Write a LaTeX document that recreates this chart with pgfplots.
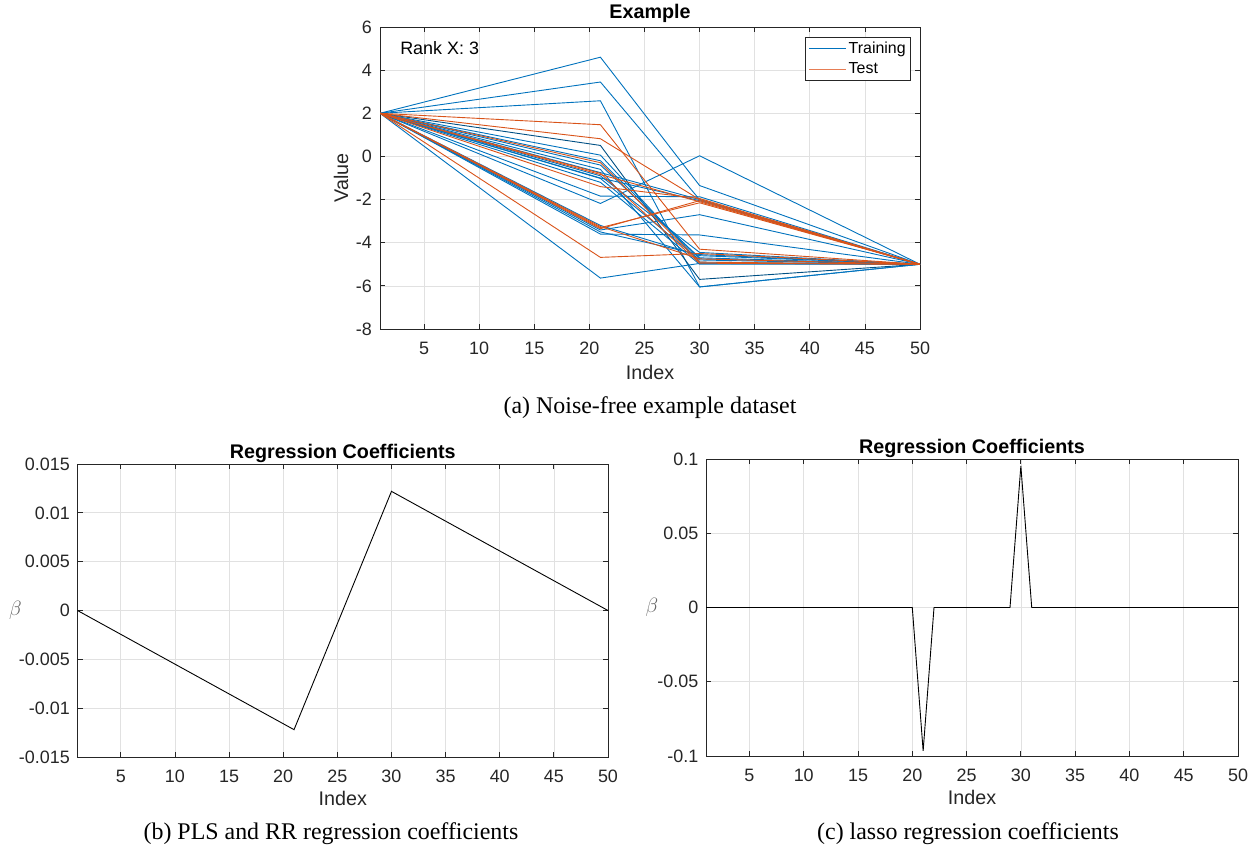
\documentclass[border=0pt]{standalone}
\usepackage{fontspec}
\setmainfont{Liberation Sans}
\newfontfamily\capfont{Liberation Serif}
\usepackage{pgfplots}
\pgfplotsset{compat=1.18}

\definecolor{mblue}{RGB}{0,114,189}
\definecolor{morange}{RGB}{217,83,25}
\definecolor{lorange}{RGB}{230,125,85}
\definecolor{axgray}{RGB}{38,38,38}
\definecolor{betagray}{RGB}{100,100,100}
\definecolor{gridgray}{RGB}{225,225,225}

\newcommand{\labfont}{\fontsize{19.8}{22}\selectfont}
\pgfplotsset{
  mstyle/.style={
    scale only axis,
    axis line style={axgray, line width=0.8bp},
    tick style={axgray, line width=0.8bp},
    major tick length=5bp,
    tick align=inside,
    grid=major,
    major grid style={gridgray, line width=0.7bp},
    scaled y ticks=false,
    scaled x ticks=false,
    /pgf/number format/assume math mode=true,
    ticklabel style={font=\fontsize{18}{20}\selectfont, text=axgray},
    xticklabel style={anchor=center, inner sep=0pt, yshift=-19bp},
    yticklabel style={anchor=east, inner sep=0pt, xshift=-8bp},
    xmin=1, xmax=50,
    xtick={5,10,15,20,25,30,35,40,45,50},
    xticklabels={5,10,15,20,25,30,35,40,45,50},
    clip=true,
  },
  mylegend/.style={
    legend image code/.code={\draw[##1] (0bp,0bp) -- (37bp,0bp);},
  },
}

\begin{document}
\begin{tikzpicture}
\useasboundingbox (0,0) rectangle (1257bp,-851bp);

% ---------------- (a) ----------------
\begin{axis}[mstyle, mylegend,
  at={(380bp,-329bp)}, anchor=south west,
  width=540bp, height=302bp,
  ymin=-8, ymax=6,
  ytick={-8,-6,-4,-2,0,2,4,6},
  yticklabels={-8,-6,-4,-2,0,2,4,6},
  title={Example},
  title style={at={(axis description cs:0.5,1)}, anchor=center, yshift=8bp, font=\bfseries\labfont, text=black},
  xlabel={Index},
  ylabel={Value},
  every axis x label/.style={at={(axis description cs:0.5,-0.1424)}, anchor=center, font=\labfont, text=axgray},
  every axis y label/.style={at={(axis description cs:-0.0722,0.5)}, rotate=90, anchor=center, font=\labfont, text=axgray},
  legend style={at={(axis description cs:1,1)}, anchor=north east, xshift=-9bp, yshift=-10bp,
    draw=axgray, line width=0.6bp, font=\fontsize{16}{18}\selectfont,
    inner xsep=3bp, inner ysep=3bp, row sep=3.5bp, cells={anchor=west}},
]
\addlegendimage{mblue, line width=1bp}
\addlegendentry{Training}
\addlegendimage{lorange, line width=1bp}
\addlegendentry{Test}

% Training
\addplot[mblue, line width=0.9bp, forget plot] coordinates {(1,2) (21,4.60) (30,-1.35) (50,-5)};
\addplot[mblue, line width=0.9bp, forget plot] coordinates {(1,2) (21,3.45) (30,-2.00) (50,-5)};
\addplot[mblue, line width=0.9bp, forget plot] coordinates {(1,2) (21,2.58) (30,-6.05) (50,-5)};
\addplot[mblue!70!black, line width=0.9bp, forget plot] coordinates {(1,2) (21,0.51) (30,-5.70) (50,-5)};
\addplot[mblue, line width=0.9bp, forget plot] coordinates {(1,2) (21,0.06) (30,-4.90) (50,-5)};
\addplot[mblue, line width=0.9bp, forget plot] coordinates {(1,2) (21,-0.40) (30,-4.70) (50,-5)};
\addplot[mblue, line width=0.9bp, forget plot] coordinates {(1,2) (21,-0.75) (30,-2.00) (50,-5)};
\addplot[mblue, line width=0.9bp, forget plot] coordinates {(1,2) (21,-1.02) (30,-4.80) (50,-5)};
\addplot[mblue, line width=0.9bp, forget plot] coordinates {(1,2) (21,-1.20) (30,-5.00) (50,-5)};
\addplot[mblue, line width=0.9bp, forget plot] coordinates {(1,2) (21,-1.84) (30,-1.87) (50,-5)};
\addplot[mblue, line width=0.9bp, forget plot] coordinates {(1,2) (21,-2.18) (30,0.03) (50,-5)};
\addplot[mblue, line width=0.9bp, forget plot] coordinates {(1,2) (21,-3.20) (30,-4.60) (50,-5)};
\addplot[mblue, line width=0.9bp, forget plot] coordinates {(1,2) (21,-3.41) (30,-2.70) (50,-5)};
\addplot[mblue, line width=0.9bp, forget plot] coordinates {(1,2) (21,-3.60) (30,-3.64) (50,-5)};
\addplot[mblue, line width=0.9bp, forget plot] coordinates {(1,2) (21,-5.64) (30,-4.96) (50,-5)};
\addplot[mblue, line width=0.9bp, forget plot] coordinates {(1,2) (21,-0.90) (30,-4.45) (50,-5)};
\addplot[mblue, line width=0.9bp, forget plot] coordinates {(1,2) (21,-1.00) (30,-2.05) (50,-5)};
\addplot[mblue, line width=0.9bp, forget plot] coordinates {(1,2) (21,-3.50) (30,-4.55) (50,-5)};
\addplot[mblue, line width=0.9bp, forget plot] coordinates {(1,2) (21,-0.60) (30,-6.05) (50,-5)};
\addplot[mblue, line width=0.9bp, forget plot] coordinates {(1,2) (21,-0.20) (30,-4.75) (50,-5)};
% Test
\addplot[morange, line width=0.9bp, forget plot] coordinates {(1,2) (21,1.47) (30,-4.30) (50,-5)};
\addplot[morange, line width=0.9bp, forget plot] coordinates {(1,2) (21,0.82) (30,-2.00) (50,-5)};
\addplot[morange, line width=0.9bp, forget plot] coordinates {(1,2) (21,-0.29) (30,-4.90) (50,-5)};
\addplot[morange, line width=0.9bp, forget plot] coordinates {(1,2) (21,-0.84) (30,-2.10) (50,-5)};
\addplot[morange, line width=0.9bp, forget plot] coordinates {(1,2) (21,-1.40) (30,-1.95) (50,-5)};
\addplot[morange, line width=0.9bp, forget plot] coordinates {(1,2) (21,-3.30) (30,-2.15) (50,-5)};
\addplot[morange, line width=0.9bp, forget plot] coordinates {(1,2) (21,-4.68) (30,-4.50) (50,-5)};
\addplot[morange, line width=0.9bp, forget plot] coordinates {(1,2) (21,-3.25) (30,-4.75) (50,-5)};
\addplot[morange, line width=0.9bp, forget plot] coordinates {(1,2) (21,-0.78) (30,-4.95) (50,-5)};
\addplot[morange, line width=0.9bp, forget plot] coordinates {(1,2) (21,-3.35) (30,-2.05) (50,-5)};

\node[anchor=west, font=\fontsize{18}{20}\selectfont, text=black] at (axis description cs:0.031,0.93) {Rank X: 3};
\end{axis}

% ---------------- (b) ----------------
\begin{axis}[mstyle,
  at={(77.5bp,-757bp)}, anchor=south west,
  width=530.5bp, height=293bp,
  ymin=-0.015, ymax=0.015,
  ytick={-0.015,-0.01,-0.005,0,0.005,0.01,0.015},
  yticklabels={-0.015,-0.01,-0.005,0,0.005,0.01,0.015},
  yticklabel style={xshift=0.5bp},
  title={Regression Coefficients},
  title style={at={(axis description cs:0.5,1)}, anchor=center, yshift=5bp, font=\bfseries\labfont, text=black},
  xlabel={Index},
  ylabel={$\beta$},
  every axis x label/.style={at={(axis description cs:0.5,-0.14)}, anchor=center, font=\labfont, text=axgray},
  every axis y label/.style={at={(axis description cs:-0.117,0.5)}, anchor=center, font=\labfont, text=betagray},
]
\addplot[black, line width=0.9bp] coordinates {(1,0) (21,-0.0122) (30,0.0122) (50,0)};
\end{axis}

% ---------------- (c) ----------------
\begin{axis}[mstyle,
  at={(706bp,-756bp)}, anchor=south west,
  width=532bp, height=297bp,
  ymin=-0.1, ymax=0.1,
  ytick={-0.1,-0.05,0,0.05,0.1},
  yticklabels={-0.1,-0.05,0,0.05,0.1},
  yticklabel style={xshift=0.5bp},
  title={Regression Coefficients},
  title style={at={(axis description cs:0.5,1)}, anchor=center, yshift=5bp, font=\bfseries\labfont, text=black},
  xlabel={Index},
  ylabel={$\beta$},
  every axis x label/.style={at={(axis description cs:0.5,-0.141)}, anchor=center, font=\labfont, text=axgray},
  every axis y label/.style={at={(axis description cs:-0.1015,0.5)}, anchor=center, font=\labfont, text=betagray},
]
\addplot[black, line width=0.9bp] coordinates {(1,0) (20,0) (21,-0.0966) (22,0) (29,0) (30,0.0953) (31,0) (50,0)};
\end{axis}

% captions
\node[font=\capfont\fontsize{24}{26}\selectfont] at (650bp,-408bp) {(a) Noise-free example dataset};
\node[font=\capfont\fontsize{24}{26}\selectfont] at (331bp,-834bp) {(b) PLS and RR regression coefficients};
\node[font=\capfont\fontsize{24}{26}\selectfont] at (968bp,-834bp) {(c) lasso regression coefficients};
\end{tikzpicture}
\end{document}
